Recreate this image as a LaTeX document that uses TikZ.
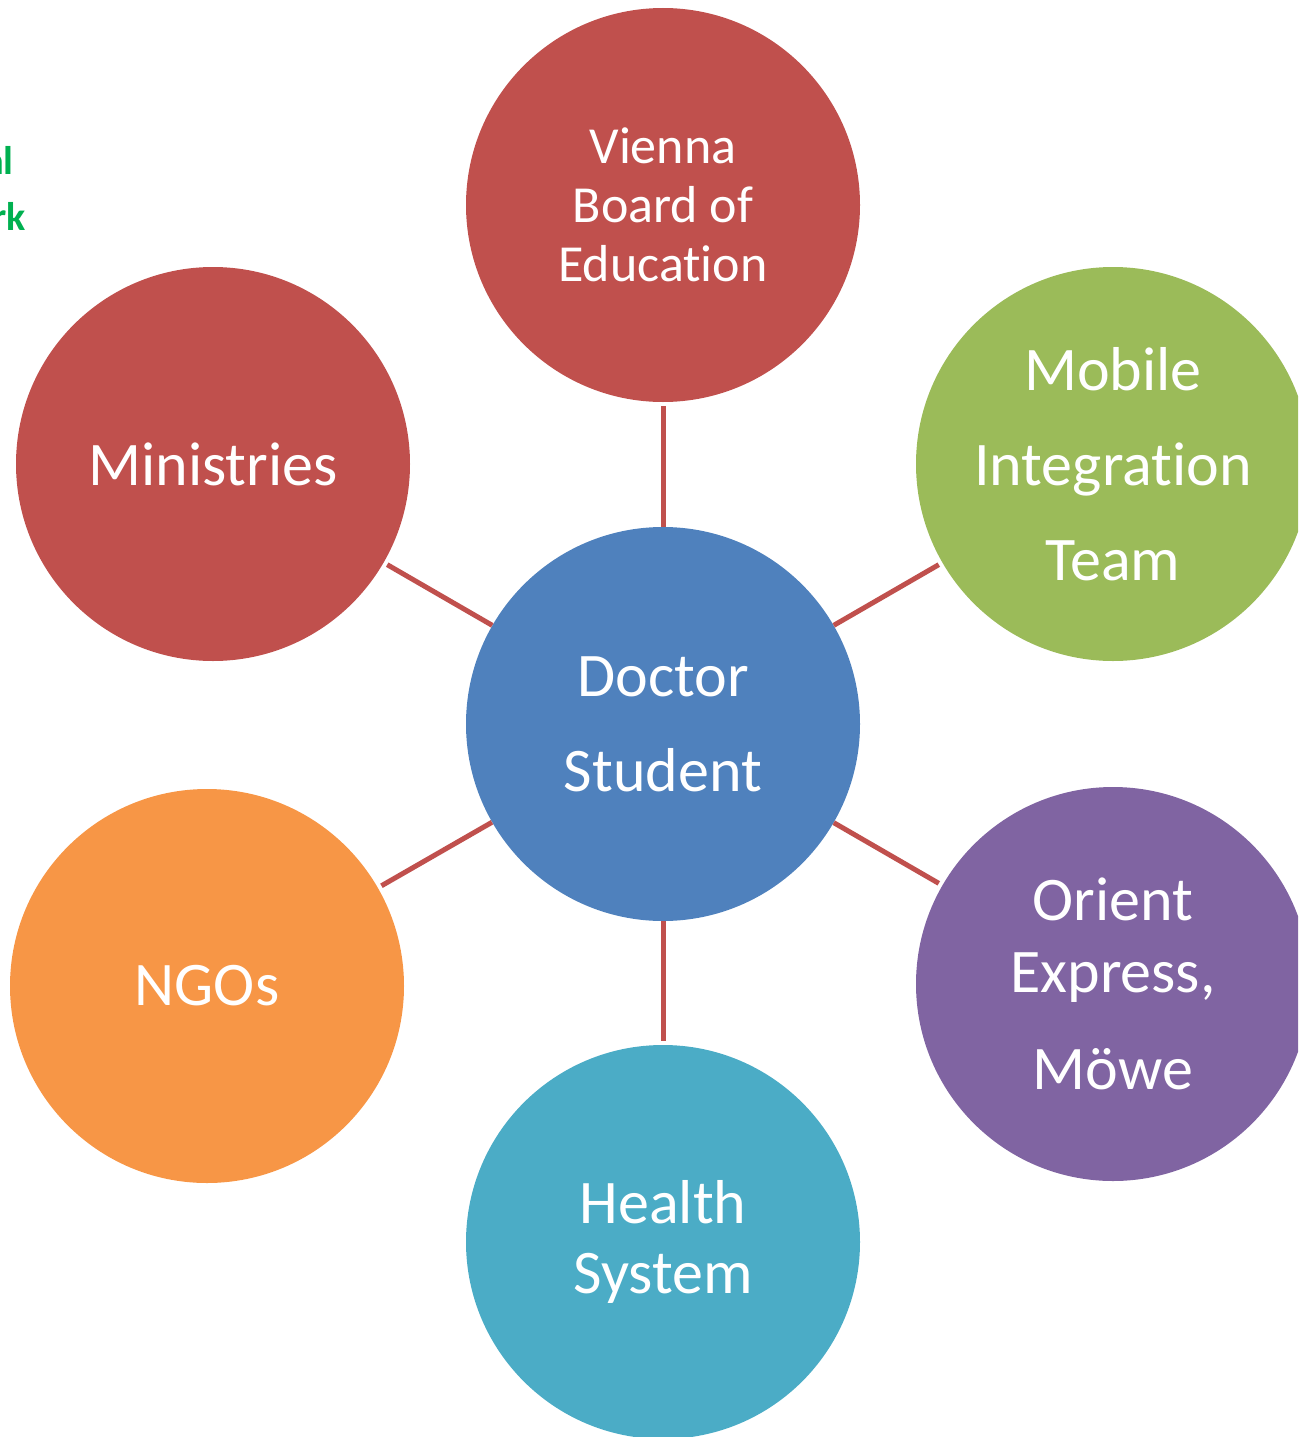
\documentclass[tikz,border=0pt]{standalone}
\usepackage{fontspec}
\setmainfont{Carlito}[Ligatures={NoCommon}]
\definecolor{cred}{HTML}{C0504D}
\definecolor{cgreen}{HTML}{9BBB59}
\definecolor{cpurple}{HTML}{8064A2}
\definecolor{cblue}{HTML}{4F81BD}
\definecolor{cteal}{HTML}{4BACC6}
\definecolor{corange}{HTML}{F79646}
\definecolor{tgreen}{HTML}{00B050}
\tikzset{
  bubble/.style={circle, minimum size=394pt, inner sep=0pt, text=white, align=center, font=\fontsize{62}{95}\selectfont},
  link/.style={draw=cred, line width=5pt, shorten >=4pt},
  sidetext/.style={text=tgreen, font=\fontsize{40}{48}\selectfont\bfseries, anchor=base east, inner sep=0pt}
}
\begin{document}
\begin{tikzpicture}[x=1pt,y=-1pt]
\useasboundingbox (0,0) rectangle (1298,1437);
\clip (0,0) rectangle (1298,1437);
\node[bubble, fill=cblue] (doc) at (663,724) {Doctor\\Student};
\node[bubble, fill=cred, font=\fontsize{52}{59}\selectfont] (vie) at (663,205) {Vienna\\Board of\\Education};
\node[bubble, fill=cgreen] (mob) at (1113,464) {Mobile\\Integration\\Team};
\node[bubble, fill=cpurple, font=\fontsize{62}{72}\selectfont] (ori) at (1113,984) {Orient\\Express,\\[25pt]Möwe};
\node[bubble, fill=cteal, font=\fontsize{62}{70}\selectfont] (hea) at (663,1242) {Health\\System};
\node[bubble, fill=corange] (ngo) at (207,986) {NGOs};
\node[bubble, fill=cred] (min) at (213,464) {Ministries};
\draw[link] (doc) -- (vie);
\draw[link] (doc) -- (mob);
\draw[link] (doc) -- (ori);
\draw[link] (doc) -- (hea);
\draw[link] (doc) -- (ngo);
\draw[link] (doc) -- (min);
\node[sidetext] (t1) at (14,174) {al};
\node[sidetext] (t2) at (26,230) {rk};
\end{tikzpicture}
\end{document}
